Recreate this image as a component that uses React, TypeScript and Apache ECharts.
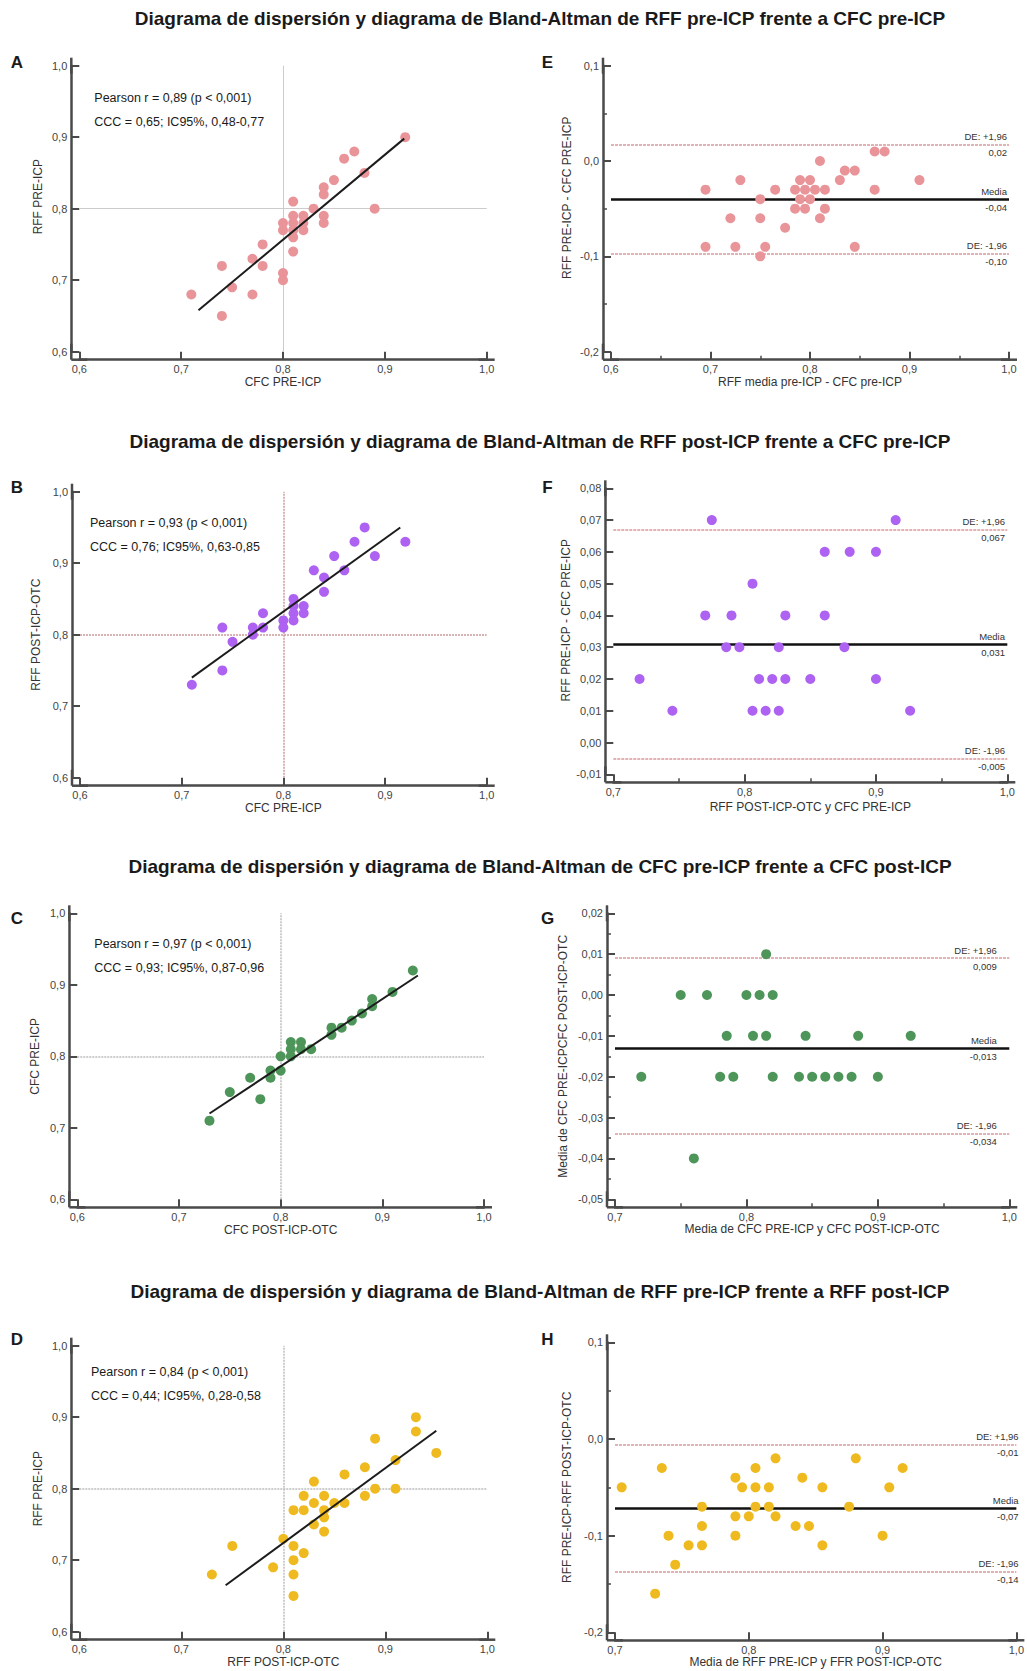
import React, { useEffect, useRef } from "react";
import * as echarts from "echarts";

// ---------- Texts ----------
const titles = [
  "Diagrama de dispersión y diagrama de Bland-Altman de RFF pre-ICP frente a CFC pre-ICP",
  "Diagrama de dispersión y diagrama de Bland-Altman de RFF post-ICP frente a CFC pre-ICP",
  "Diagrama de dispersión y diagrama de Bland-Altman de CFC pre-ICP frente a CFC post-ICP",
  "Diagrama de dispersión y diagrama de Bland-Altman de RFF pre-ICP frente a RFF post-ICP",
];

// ---------- Panel A: RFF pre-ICP vs CFC pre-ICP ----------
const aX = [0.71, 0.74, 0.74, 0.75, 0.77, 0.77, 0.78, 0.78, 0.8, 0.8, 0.8, 0.8, 0.81, 0.81, 0.81, 0.81, 0.81, 0.81, 0.82, 0.82, 0.82, 0.83, 0.84, 0.84, 0.84, 0.84, 0.85, 0.86, 0.87, 0.88, 0.89, 0.92];
const aY = [0.68, 0.72, 0.65, 0.69, 0.73, 0.68, 0.75, 0.72, 0.78, 0.77, 0.71, 0.7, 0.81, 0.79, 0.78, 0.77, 0.76, 0.74, 0.79, 0.78, 0.77, 0.8, 0.83, 0.82, 0.79, 0.78, 0.84, 0.87, 0.88, 0.85, 0.8, 0.9];
const aFit = [[0.717, 0.658], [0.919, 0.898]];
const aStats = ["Pearson r = 0,89 (p < 0,001)", "CCC = 0,65; IC95%, 0,48-0,77"];

// ---------- Panel B: RFF post-ICP vs CFC pre-ICP ----------
const bX = [0.71, 0.74, 0.74, 0.75, 0.77, 0.77, 0.78, 0.78, 0.8, 0.8, 0.81, 0.81, 0.81, 0.81, 0.82, 0.82, 0.83, 0.84, 0.84, 0.85, 0.86, 0.87, 0.88, 0.89, 0.92];
const bY = [0.73, 0.81, 0.75, 0.79, 0.81, 0.8, 0.83, 0.81, 0.82, 0.81, 0.85, 0.84, 0.83, 0.82, 0.84, 0.83, 0.89, 0.88, 0.86, 0.91, 0.89, 0.93, 0.95, 0.91, 0.93];
const bFit = [[0.71, 0.74], [0.915, 0.95]];
const bStats = ["Pearson r = 0,93 (p < 0,001)", "CCC = 0,76; IC95%, 0,63-0,85"];

// ---------- Panel C: CFC pre-ICP vs CFC post-ICP ----------
const cX = [0.73, 0.75, 0.77, 0.78, 0.79, 0.79, 0.8, 0.8, 0.81, 0.81, 0.81, 0.82, 0.82, 0.83, 0.85, 0.85, 0.86, 0.87, 0.88, 0.89, 0.89, 0.91, 0.93];
const cY = [0.71, 0.75, 0.77, 0.74, 0.78, 0.77, 0.8, 0.78, 0.82, 0.81, 0.8, 0.82, 0.81, 0.81, 0.84, 0.83, 0.84, 0.85, 0.86, 0.88, 0.87, 0.89, 0.92];
const cFit = [[0.73, 0.72], [0.935, 0.913]];
const cStats = ["Pearson r = 0,97 (p < 0,001)", "CCC = 0,93; IC95%, 0,87-0,96"];

// ---------- Panel D: RFF pre-ICP vs RFF post-ICP ----------
const dX = [0.73, 0.75, 0.79, 0.8, 0.81, 0.81, 0.81, 0.81, 0.81, 0.82, 0.82, 0.82, 0.83, 0.83, 0.83, 0.84, 0.84, 0.84, 0.84, 0.85, 0.86, 0.86, 0.88, 0.88, 0.89, 0.89, 0.91, 0.91, 0.93, 0.93, 0.95];
const dY = [0.68, 0.72, 0.69, 0.73, 0.77, 0.72, 0.7, 0.68, 0.65, 0.79, 0.77, 0.71, 0.81, 0.78, 0.75, 0.79, 0.77, 0.76, 0.74, 0.78, 0.82, 0.78, 0.83, 0.79, 0.87, 0.8, 0.84, 0.8, 0.9, 0.88, 0.85];
const dFit = [[0.7435, 0.665], [0.95, 0.881]];
const dStats = ["Pearson r = 0,84 (p < 0,001)", "CCC = 0,44; IC95%, 0,28-0,58"];

// ---------- Panel E: Bland-Altman (A) ----------
const eX = [0.695, 0.695, 0.72, 0.725, 0.73, 0.75, 0.75, 0.75, 0.755, 0.765, 0.775, 0.785, 0.785, 0.79, 0.79, 0.795, 0.795, 0.8, 0.8, 0.805, 0.81, 0.81, 0.815, 0.815, 0.83, 0.835, 0.845, 0.845, 0.865, 0.865, 0.875, 0.91];
const eY = [-0.03, -0.09, -0.06, -0.09, -0.02, -0.04, -0.06, -0.1, -0.09, -0.03, -0.07, -0.03, -0.05, -0.02, -0.04, -0.03, -0.05, -0.02, -0.04, -0.03, 0.0, -0.06, -0.03, -0.05, -0.02, -0.01, -0.01, -0.09, 0.01, -0.03, 0.01, -0.02];
const eLines = [0.017, -0.04, -0.097]; // +1.96 SD, mean, -1.96 SD
const eLineLabels = ["DE: +1,96\n0,02", "Media\n-0,04", "DE: -1,96\n-0,10"];

// ---------- Panel F: Bland-Altman (B) ----------
const fX = [0.72, 0.745, 0.77, 0.775, 0.786, 0.79, 0.796, 0.806, 0.806, 0.811, 0.816, 0.821, 0.826, 0.826, 0.831, 0.831, 0.85, 0.861, 0.861, 0.876, 0.88, 0.9, 0.9, 0.915, 0.926];
const fY = [0.02, 0.01, 0.04, 0.07, 0.03, 0.04, 0.03, 0.05, 0.01, 0.02, 0.01, 0.02, 0.03, 0.01, 0.04, 0.02, 0.02, 0.06, 0.04, 0.03, 0.06, 0.06, 0.02, 0.07, 0.01];
const fLines = [0.067, 0.031, -0.005];
const fLineLabels = ["DE: +1,96\n0,067", "Media\n0,031", "DE: -1,96\n-0,005"];

// ---------- Panel G: Bland-Altman (C) ----------
const gX = [0.72, 0.75, 0.76, 0.77, 0.78, 0.785, 0.79, 0.8, 0.805, 0.81, 0.815, 0.815, 0.82, 0.82, 0.84, 0.845, 0.85, 0.86, 0.87, 0.88, 0.885, 0.9, 0.925];
const gY = [-0.02, 0.0, -0.04, 0.0, -0.02, -0.01, -0.02, 0.0, -0.01, 0.0, 0.01, -0.01, 0.0, -0.02, -0.02, -0.01, -0.02, -0.02, -0.02, -0.02, -0.01, -0.02, -0.01];
const gLines = [0.009, -0.013, -0.034];
const gLineLabels = ["DE: +1,96\n0,009", "Media\n-0,013", "DE: -1,96\n-0,034"];

// ---------- Panel H: Bland-Altman (D) ----------
const hX = [0.705, 0.73, 0.735, 0.74, 0.745, 0.755, 0.765, 0.765, 0.765, 0.79, 0.79, 0.79, 0.795, 0.8, 0.805, 0.805, 0.805, 0.815, 0.815, 0.82, 0.82, 0.835, 0.84, 0.845, 0.855, 0.855, 0.875, 0.88, 0.9, 0.905, 0.915];
const hY = [-0.05, -0.16, -0.03, -0.1, -0.13, -0.11, -0.07, -0.09, -0.11, -0.04, -0.08, -0.1, -0.05, -0.08, -0.03, -0.05, -0.07, -0.05, -0.07, -0.02, -0.08, -0.09, -0.04, -0.09, -0.05, -0.11, -0.07, -0.02, -0.1, -0.05, -0.03];
const hLines = [-0.006, -0.072, -0.137];
const hLineLabels = ["DE: +1,96\n-0,01", "Media\n-0,07", "DE: -1,96\n-0,14"];

const refCut = 0.8;

// ---------- Styling / layout ----------
const FONT = "'Liberation Sans', Arial, Helvetica, sans-serif";
const AX = "#4a4a4a";
const PINK = "#e99499";
const PURPLE = "#ad62f2";
const GREEN = "#4e955a";
const YELLOW = "#efba1f";
const LOA = "#e2b2b4";

const fmt = (d: number) => (v: number) => {
  const x = Math.abs(v) < 1e-9 ? 0 : v;
  return x.toFixed(d).replace(".", ",");
};

const zip = (xs: number[], ys: number[]) => xs.map((x, i) => [x, ys[i]]);

type AxisCfg = {
  min: number; max: number; interval: number; dec: number; name: string; gap: number; minor?: boolean; pad?: number[];
};

function axis(kind: "x" | "y", gridIndex: number, c: AxisCfg) {
  return {
    type: "value",
    gridIndex,
    min: c.min,
    max: c.max,
    interval: c.interval,
    position: kind === "x" ? "bottom" : "left",
    offset: 8,
    name: c.name,
    nameLocation: "middle",
    nameGap: c.gap,
    nameTextStyle: { fontFamily: FONT, fontSize: 12, color: "#333", padding: c.pad || 0 },
    axisLine: {
      show: true,
      onZero: false,
      symbol: ["rect", "rect"],
      symbolSize: [2.5, 16],
      lineStyle: { color: AX, width: 2.5 },
    },
    axisTick: { show: true, inside: true, length: 8, lineStyle: { color: AX, width: 2 } },
    minorTick: { show: !!c.minor, splitNumber: 2, length: 4, lineStyle: { color: AX, width: 1.5 } },
    axisLabel: { fontFamily: FONT, fontSize: 11, color: "#444", margin: 4, formatter: fmt(c.dec) },
    splitLine: { show: false },
    minorSplitLine: { show: false },
  };
}

type Panel = {
  grid: { left: number; top: number; width: number; height: number };
  x: AxisCfg;
  y: AxisCfg;
};

const panels: Panel[] = [
  // A
  {
    grid: { left: 79.3, top: 65.7, width: 407.4, height: 286 },
    x: { min: 0.6, max: 1.0, interval: 0.1, dec: 1, name: "CFC PRE-ICP", gap: 16 },
    y: { min: 0.6, max: 1.0, interval: 0.1, dec: 1, name: "RFF PRE-ICP", gap: 27, pad: [0, 0, 0, 24] },
  },
  // B
  {
    grid: { left: 80, top: 491.7, width: 406.7, height: 286 },
    x: { min: 0.6, max: 1.0, interval: 0.1, dec: 1, name: "CFC PRE-ICP", gap: 15.5 },
    y: { min: 0.6, max: 1.0, interval: 0.1, dec: 1, name: "RFF POST-ICP-OTC", gap: 30 },
  },
  // C
  {
    grid: { left: 77.3, top: 913.3, width: 406.7, height: 286 },
    x: { min: 0.6, max: 1.0, interval: 0.1, dec: 1, name: "CFC POST-ICP-OTC", gap: 16.5 },
    y: { min: 0.6, max: 1.0, interval: 0.1, dec: 1, name: "CFC PRE-ICP", gap: 28 },
  },
  // D
  {
    grid: { left: 79.3, top: 1345.7, width: 408, height: 286 },
    x: { min: 0.6, max: 1.0, interval: 0.1, dec: 1, name: "RFF POST-ICP-OTC", gap: 15.5 },
    y: { min: 0.6, max: 1.0, interval: 0.1, dec: 1, name: "RFF PRE-ICP", gap: 27 },
  },
  // E
  {
    grid: { left: 611, top: 65.7, width: 398, height: 286 },
    x: { min: 0.6, max: 1.0, interval: 0.1, dec: 1, name: "RFF media pre-ICP - CFC pre-ICP", gap: 16, minor: true },
    y: { min: -0.2, max: 0.1, interval: 0.1, dec: 1, name: "RFF PRE-ICP - CFC PRE-ICP", gap: 30, minor: true, pad: [0, 0, 0, 22] },
  },
  // F
  {
    grid: { left: 613.3, top: 488.3, width: 394, height: 286 },
    x: { min: 0.7, max: 1.0, interval: 0.1, dec: 1, name: "RFF POST-ICP-OTC y CFC PRE-ICP", gap: 19, minor: true },
    y: { min: -0.01, max: 0.08, interval: 0.01, dec: 2, name: "RFF PRE-ICP - CFC PRE-ICP", gap: 32, pad: [0, 0, 0, 22] },
  },
  // G
  {
    grid: { left: 615, top: 913.3, width: 394.3, height: 286 },
    x: { min: 0.7, max: 1.0, interval: 0.1, dec: 1, name: "Media de CFC PRE-ICP y CFC POST-ICP-OTC", gap: 16, minor: true },
    y: { min: -0.05, max: 0.02, interval: 0.01, dec: 2, name: "Media de CFC PRE-ICPCFC POST-ICP-OTC", gap: 38, minor: true },
  },
  // H
  {
    grid: { left: 615, top: 1342.3, width: 401.7, height: 290 },
    x: { min: 0.7, max: 1.0, interval: 0.1, dec: 1, name: "Media de RFF PRE-ICP y FFR POST-ICP-OTC", gap: 16 },
    y: { min: -0.2, max: 0.1, interval: 0.1, dec: 1, name: "RFF PRE-ICP-RFF POST-ICP-OTC", gap: 34.5, minor: true },
  },
];

function scatterSeries(i: number, xs: number[], ys: number[], color: string, refStyle: any) {
  return {
    type: "scatter",
    xAxisIndex: i,
    yAxisIndex: i,
    data: zip(xs, ys),
    symbolSize: 10,
    itemStyle: { color, opacity: 1 },
    z: 2,
    markLine: {
      silent: true,
      precision: 4,
      symbol: ["none", "none"],
      label: { show: false },
      lineStyle: refStyle,
      data: [{ xAxis: refCut }, { yAxis: refCut }],
      z: 1,
    },
  };
}

function fitSeries(i: number, fit: number[][]) {
  return {
    type: "line",
    xAxisIndex: i,
    yAxisIndex: i,
    data: fit,
    symbol: "none",
    lineStyle: { color: "#1c1c1c", width: 2 },
    z: 4,
  };
}

function baSeries(i: number, xs: number[], ys: number[], color: string, lines: number[], labels: string[], labelDx: number) {
  const lbl = (t: string) => ({
    show: true,
    position: "insideEnd",
    formatter: t,
    distance: [labelDx, 0],
    fontFamily: FONT,
    fontSize: 9.5,
    lineHeight: 16,
    color: "#333",
  });
  const loaStyle = { color: LOA, width: 2, type: [3, 1] };
  return {
    type: "scatter",
    xAxisIndex: i,
    yAxisIndex: i,
    data: zip(xs, ys),
    symbolSize: 10,
    itemStyle: { color, opacity: 1 },
    z: 3,
    markLine: {
      silent: true,
      precision: 4,
      symbol: ["none", "none"],
      z: 1,
      data: [
        { yAxis: lines[0], lineStyle: loaStyle, label: lbl(labels[0]) },
        { yAxis: lines[1], lineStyle: { color: "#111", width: 2.5, type: "solid" }, label: lbl(labels[1]) },
        { yAxis: lines[2], lineStyle: loaStyle, label: lbl(labels[2]) },
      ],
    },
  };
}

function txt(text: string, x: number, y: number, size: number, weight: string, align = "left") {
  return {
    type: "text",
    x,
    y,
    silent: true,
    style: {
      text,
      fontFamily: FONT,
      fontSize: size,
      fontWeight: weight,
      fill: "#1a1a1a",
      textAlign: align,
      textVerticalAlign: "middle",
    },
  };
}

const titleY = [18.1, 441.1, 866.2, 1291.3];
const letters = ["A", "B", "C", "D", "E", "F", "G", "H"];
const letterPos = [
  [17, 62.7], [17, 487.7], [17, 918.3], [17, 1339.3],
  [547.5, 62.7], [547.5, 487.7], [547.5, 918.3], [547.5, 1339.3],
];
const statsPos = [
  [94.3, 98.3, 121.7], [90, 523.3, 547.3], [94.3, 944.3, 967.7], [91, 1372.3, 1396],
];
const allStats = [aStats, bStats, cStats, dStats];

function buildOption() {
  const graphic: any[] = [];
  titles.forEach((t, i) => graphic.push(txt(t, 540, titleY[i], 19, "bold", "center")));
  letters.forEach((l, i) => graphic.push(txt(l, letterPos[i][0], letterPos[i][1], 17, "bold", "center")));
  allStats.forEach((s, i) => {
    graphic.push(txt(s[0], statsPos[i][0], statsPos[i][1], 12.5, "normal"));
    graphic.push(txt(s[1], statsPos[i][0], statsPos[i][2], 12.5, "normal"));
  });

  const grayRef = { color: "#cccccc", width: 1, type: "solid" };
  const grayDot = { color: "#bdbdbd", width: 1.5, type: [2, 1] };
  const redDot = { color: "#cc9a9a", width: 1.5, type: [2, 1] };

  return {
    animation: false,
    backgroundColor: "#ffffff",
    textStyle: { fontFamily: FONT },
    grid: panels.map((p) => ({ ...p.grid, containLabel: false })),
    xAxis: panels.map((p, i) => axis("x", i, p.x)),
    yAxis: panels.map((p, i) => axis("y", i, p.y)),
    graphic,
    series: [
      scatterSeries(0, aX, aY, PINK, grayRef),
      fitSeries(0, aFit),
      scatterSeries(1, bX, bY, PURPLE, redDot),
      fitSeries(1, bFit),
      scatterSeries(2, cX, cY, GREEN, grayDot),
      fitSeries(2, cFit),
      scatterSeries(3, dX, dY, YELLOW, grayDot),
      fitSeries(3, dFit),
      baSeries(4, eX, eY, PINK, eLines, eLineLabels, 2),
      baSeries(5, fX, fY, PURPLE, fLines, fLineLabels, 2.3),
      baSeries(6, gX, gY, GREEN, gLines, gLineLabels, 12.5),
      baSeries(7, hX, hY, YELLOW, hLines, hLineLabels, -2.3),
    ],
  };
}

export default function App() {
  const ref = useRef<HTMLDivElement>(null);
  useEffect(() => {
    const chart = echarts.init(ref.current!, null, { renderer: "svg" });
    chart.setOption(buildOption() as any);
    return () => chart.dispose();
  }, []);
  return (
    <div
      ref={ref}
      style={{ position: "absolute", left: 0, top: 0, width: 1027, height: 1671, background: "#fff" }}
    />
  );
}
